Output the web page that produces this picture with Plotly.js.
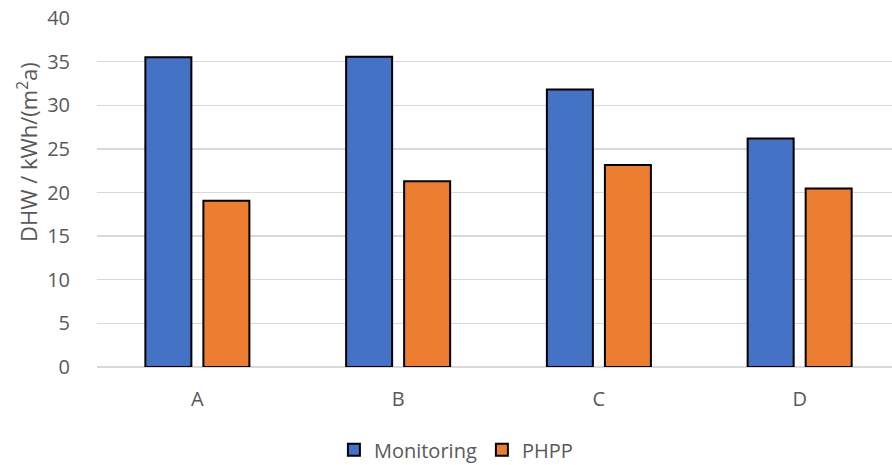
<!DOCTYPE html>
<html>
<head>
<meta charset="utf-8">
<script src="https://cdn.plot.ly/plotly-3.0.1.min.js"></script>
<style>html,body{margin:0;padding:0;background:#fff;}#chart{width:892px;height:465px;}</style>
</head>
<body>
<div id="chart"></div>
<script>
var categories = ["A", "B", "C", "D"];
var monitoring = [35.5, 35.55, 31.8, 26.2];
var phpp = [19.05, 21.3, 23.15, 20.45];
var yTicks = [0, 5, 10, 15, 20, 25, 30, 35, 40];

var font = "'Open Sans', sans-serif";
var traces = [
  {type: "bar", name: "Monitoring", x: categories, y: monitoring,
   marker: {color: "#4472C4", line: {color: "#000000", width: 2}}},
  {type: "bar", name: "PHPP", x: categories, y: phpp,
   marker: {color: "#ED7D31", line: {color: "#000000", width: 2}}}
];
var layout = {
  width: 892, height: 465,
  margin: {l: 97, r: 0, t: 18, b: 98, autoexpand: false},
  paper_bgcolor: "#ffffff", plot_bgcolor: "#ffffff",
  barmode: "group", bargap: 0.422, bargroupgap: 0.207,
  showlegend: true,
  legend: {orientation: "h", x: 0.298, xanchor: "left", y: -0.237, yanchor: "middle",
           font: {family: font, size: 20, color: "#595959"}},
  xaxis: {type: "category", range: [-0.5, 3.46], showgrid: false, zeroline: false,
          showline: false, ticks: "outside", ticklen: 14, tickcolor: "rgba(0,0,0,0)",
          tickfont: {family: font, size: 20, color: "#595959"}},
  yaxis: {range: [0, 40], tickvals: yTicks, showgrid: true, gridcolor: "#D9D9D9", gridwidth: 1.3,
          zeroline: true, zerolinecolor: "#D9D9D9", zerolinewidth: 1.3,
          ticks: "outside", ticklen: 22, tickcolor: "rgba(0,0,0,0)",
          tickfont: {family: font, size: 20, color: "#595959"}},
  annotations: [{text: "DHW / kWh/(m<sup>2</sup>a)", xref: "paper", yref: "paper",
                 x: -0.088, y: 0.616, xanchor: "center", yanchor: "middle", textangle: -90,
                 showarrow: false, font: {family: font, size: 22, color: "#595959"}}]
};
Plotly.newPlot("chart", traces, layout, {staticPlot: true, displayModeBar: false});
</script>
</body>
</html>
